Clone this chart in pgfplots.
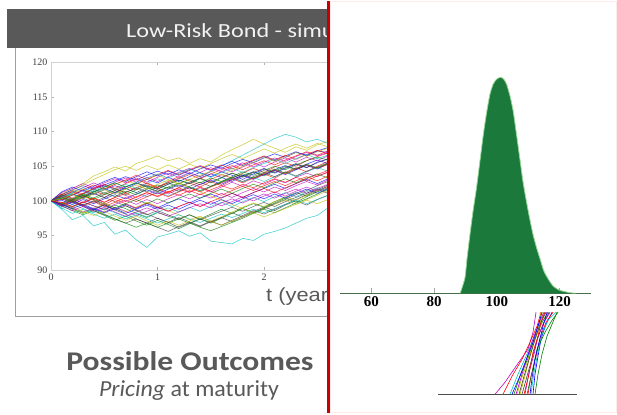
\documentclass[border=0pt]{standalone}
\usepackage{fontspec}
\setmainfont{Carlito}
\newfontfamily\timesfont{Liberation Serif}
\newfontfamily\arialfont{Liberation Sans}
\usepackage{pgfplots}
\pgfplotsset{compat=1.18}

\definecolor{bargray}{RGB}{89,89,89}
\definecolor{txtgray}{RGB}{89,89,89}
\definecolor{histgreen}{RGB}{27,122,59}
\definecolor{histedge}{RGB}{150,215,150}
\definecolor{baseg}{RGB}{70,110,75}
\definecolor{slidered}{RGB}{200,0,0}
\definecolor{mb}{rgb}{0,0,1}
\definecolor{mg}{rgb}{0,0.5,0}
\definecolor{mr}{rgb}{1,0,0}
\definecolor{mc}{rgb}{0,0.75,0.75}
\definecolor{mm}{rgb}{0.75,0,0.75}
\definecolor{my}{rgb}{0.75,0.75,0}
\definecolor{mk}{rgb}{0.25,0.25,0.25}

% one simulated path, values every 0.1 year
\newcommand{\pth}[2]{\addplot[#1] table[row sep=\\, header=false, x expr=\coordindex/10, y index=0] {#2\\};}

\begin{document}
\begin{tikzpicture}
\path (0pt,0pt) rectangle (617pt,-412pt);

% ---- left panel frame and title bar
\begin{scope}[x=1pt,y=-1pt]
  \fill[white] (0,0) rectangle (617,412);
  \draw[pink!35, line width=0.8pt] (330.5,0.5) rectangle (616.5,411.5);
  \fill[bargray] (7,8) rectangle (327,47);
  \begin{scope}
    \clip (7,8) rectangle (327,47);
    \node[anchor=base west, inner sep=0, xscale=1.21, text=white!95!black, font=\fontsize{20}{20}\selectfont] at (126,36) {Low-Risk Bond - simulation};
  \end{scope}
  \draw[gray!75, line width=1pt] (15,47) -- (15,315) -- (327,315);
\end{scope}

% ---- simulated bond paths
\begin{scope}
\clip (0pt,0pt) rectangle (327pt,-412pt);
\begin{axis}[
  at={(51pt,-269pt)}, anchor=south west, scale only axis,
  width=319.5pt, height=208pt,
  xmin=0, xmax=3, ymin=90, ymax=120,
  xtick={0,1,2,3}, ytick={90,95,...,120},
  axis line style={gray!35, line width=0.9pt},
  tick style={gray!60}, major tick length=3pt,
  tick label style={font=\timesfont\fontsize{10}{10}\selectfont, text=black!75},
  /pgf/number format/assume math mode=true,
  every axis plot/.append style={line width=0.6pt, opacity=0.7},
]
\pth{mb}{100\\100.6\\101.0\\100.5\\101.3\\101.8\\101.2\\102.0\\102.6\\102.1\\101.7\\102.4\\103.0\\102.5\\103.3\\103.9\\103.4\\102.8\\103.6\\104.2\\103.7\\104.5\\105.1\\104.6\\105.3\\105.9\\105.4}
\pth{mg}{100\\99.6\\99.1\\99.8\\99.3\\98.7\\99.4\\98.9\\98.2\\97.6\\98.3\\97.8\\97.3\\98.0\\97.4\\98.1\\98.8\\98.2\\99.0\\99.6\\99.1\\99.9\\100.5\\101.2\\100.7\\101.5\\102.1}
\pth{mr}{100\\100.9\\101.5\\101.0\\101.8\\102.3\\101.7\\101.2\\101.9\\102.6\\102.0\\102.8\\103.5\\102.9\\102.3\\103.1\\103.8\\103.3\\104.0\\104.7\\104.1\\104.9\\105.5\\105.0\\105.8\\106.4\\106.9}
\pth{mc}{100\\98.8\\97.3\\97.9\\96.4\\96.9\\95.2\\95.8\\94.4\\93.3\\94.8\\95.2\\95.7\\94.9\\95.4\\94.2\\94.0\\93.8\\94.6\\94.3\\95.2\\95.6\\96.1\\96.8\\97.5\\97.9\\99.0}
\pth{mm}{100\\100.3\\99.7\\100.4\\101.1\\100.5\\101.3\\100.8\\100.2\\100.9\\101.6\\101.0\\101.7\\101.2\\101.9\\101.3\\102.0\\102.7\\102.1\\102.9\\102.4\\103.1\\102.6\\103.4\\104.0\\103.5\\104.2}
\pth{my}{100\\101.0\\101.8\\102.5\\103.6\\104.2\\104.9\\104.3\\105.4\\105.9\\106.5\\105.8\\106.2\\105.4\\106.1\\105.6\\106.6\\107.4\\108.1\\108.9\\108.2\\107.6\\107.0\\107.8\\107.3\\108.1\\108.6}
\pth{mk}{100\\99.5\\100.1\\99.4\\98.8\\99.5\\98.7\\98.1\\97.4\\96.8\\97.5\\96.9\\96.2\\96.8\\97.4\\96.9\\97.6\\98.3\\97.7\\98.5\\99.1\\98.6\\99.4\\100.0\\99.4\\100.2\\100.8}
\pth{mb}{100\\100.2\\100.8\\101.5\\100.9\\101.6\\102.2\\101.7\\102.5\\103.1\\102.6\\103.4\\102.8\\103.5\\104.1\\103.5\\104.2\\103.7\\103.1\\103.9\\104.6\\104.0\\104.7\\105.3\\104.8\\105.6\\106.0}
\pth{mg}{100\\99.3\\98.6\\98.0\\98.6\\97.9\\97.2\\97.8\\97.1\\96.5\\97.2\\96.6\\96.0\\96.7\\97.4\\96.8\\97.5\\98.2\\98.9\\98.3\\99.0\\99.7\\100.4\\99.8\\100.6\\101.3\\101.9}
\pth{mr}{100\\100.5\\100.0\\100.7\\101.4\\100.9\\101.5\\102.1\\101.6\\102.3\\101.8\\101.2\\101.9\\102.6\\102.0\\102.8\\102.2\\103.0\\103.7\\103.2\\103.9\\103.3\\104.1\\104.8\\104.2\\105.0\\105.7}
\pth{mc}{100\\100.7\\101.4\\100.8\\101.5\\102.2\\101.6\\102.4\\101.8\\102.5\\103.2\\102.6\\103.3\\104.0\\103.5\\104.3\\105.0\\105.8\\106.6\\107.4\\108.2\\109.0\\109.6\\109.2\\108.5\\108.9\\108.3}
\pth{mm}{100\\99.8\\99.2\\99.9\\99.3\\98.8\\99.5\\100.1\\99.5\\100.2\\99.6\\100.3\\100.9\\100.3\\101.0\\100.4\\101.1\\100.5\\101.2\\101.8\\101.3\\102.0\\101.5\\102.2\\102.8\\102.3\\103.0}
\pth{my}{100\\99.4\\98.9\\98.3\\98.9\\99.6\\99.0\\98.4\\99.1\\99.8\\99.2\\98.6\\98.0\\97.3\\97.8\\97.1\\97.7\\98.4\\99.1\\99.7\\99.2\\99.9\\100.6\\100.1\\100.8\\101.4\\102.0}
\pth{mk}{100\\100.4\\101.0\\100.4\\99.8\\100.5\\99.9\\99.3\\98.7\\98.1\\97.5\\96.9\\97.6\\97.0\\96.4\\97.1\\96.5\\97.2\\97.9\\98.6\\98.1\\98.8\\99.5\\100.2\\100.9\\101.6\\102.3}
\pth{mb}{100\\100.9\\101.6\\102.2\\101.7\\102.3\\102.9\\103.5\\103.0\\103.7\\104.3\\103.8\\104.5\\103.9\\104.6\\105.2\\104.7\\105.4\\106.0\\105.5\\106.2\\106.8\\106.3\\107.0\\106.6\\107.2\\107.7}
\pth{mg}{100\\100.6\\100.1\\100.8\\100.2\\100.9\\101.5\\100.9\\101.6\\102.2\\101.7\\102.4\\103.0\\102.5\\103.2\\102.6\\103.3\\104.0\\103.5\\104.2\\103.6\\104.3\\105.0\\104.5\\105.2\\104.7\\105.4}
\pth{mr}{100\\99.7\\100.3\\99.7\\100.4\\99.8\\100.5\\99.9\\100.6\\101.2\\100.7\\101.4\\100.8\\101.5\\100.9\\101.6\\102.2\\101.7\\102.4\\101.9\\102.6\\103.2\\102.7\\103.4\\102.9\\103.6\\104.1}
\pth{mc}{100\\98.9\\99.5\\98.9\\98.3\\98.9\\98.3\\97.7\\98.3\\97.7\\98.4\\99.0\\98.4\\99.1\\98.5\\99.2\\99.8\\99.2\\99.9\\100.5\\99.9\\100.6\\101.2\\100.6\\101.3\\101.9\\101.4}
\pth{mm}{100\\101.2\\101.8\\102.5\\101.9\\102.6\\103.2\\102.6\\103.3\\102.7\\103.4\\104.0\\103.4\\104.1\\103.5\\104.2\\104.8\\104.2\\104.9\\105.5\\104.9\\105.6\\106.2\\105.6\\106.3\\105.8\\106.5}
\pth{my}{100\\100.5\\101.1\\101.7\\101.1\\101.8\\102.4\\103.0\\102.4\\103.1\\103.7\\103.1\\102.5\\101.9\\101.3\\100.7\\100.1\\99.5\\98.9\\98.3\\98.9\\99.5\\100.1\\99.5\\100.2\\100.8\\101.5}
\pth{mk}{100\\99.2\\99.8\\99.2\\98.6\\98.0\\97.4\\96.8\\97.4\\96.8\\96.2\\95.6\\96.3\\96.9\\96.3\\97.0\\97.6\\97.0\\97.7\\98.3\\98.9\\99.6\\100.2\\100.9\\101.5\\102.2\\102.8}
\pth{mb}{100\\100.1\\99.5\\100.2\\99.6\\100.3\\100.9\\100.3\\101.0\\101.6\\101.0\\101.7\\102.3\\101.7\\102.4\\103.0\\102.4\\103.1\\103.7\\103.1\\103.8\\104.4\\103.8\\104.5\\105.1\\104.6\\105.3}
\pth{mg}{100\\99.5\\98.8\\98.2\\98.8\\98.1\\97.4\\96.8\\96.2\\96.8\\96.2\\96.8\\97.4\\96.8\\96.2\\95.7\\96.3\\96.9\\97.5\\98.2\\98.8\\98.3\\99.0\\99.7\\100.3\\101.0\\101.7}
\pth{mr}{100\\101.0\\100.4\\101.1\\101.8\\102.4\\101.8\\102.5\\103.1\\102.5\\101.9\\102.6\\103.2\\103.8\\103.2\\103.9\\104.5\\105.1\\104.5\\105.2\\105.8\\105.2\\105.9\\106.5\\107.1\\106.6\\107.2}
\pth{mc}{100\\100.4\\101.0\\100.4\\101.1\\101.7\\101.1\\101.8\\101.2\\100.6\\101.3\\100.7\\101.4\\102.0\\101.4\\102.1\\102.7\\103.3\\102.7\\103.4\\102.8\\103.5\\104.1\\103.5\\104.2\\104.8\\104.3}
\pth{mm}{100\\99.6\\99.0\\98.4\\99.0\\98.4\\99.1\\98.5\\97.9\\98.5\\99.1\\98.5\\99.2\\99.8\\99.2\\99.9\\99.3\\99.9\\100.6\\100.0\\100.7\\101.3\\100.7\\101.4\\102.0\\101.4\\102.1}
\pth{my}{100\\100.8\\101.5\\102.3\\103.1\\103.8\\104.5\\105.0\\104.4\\105.1\\104.5\\105.2\\104.6\\105.3\\104.7\\105.4\\106.1\\106.7\\106.1\\106.8\\107.5\\106.9\\107.6\\108.2\\107.6\\108.3\\107.8}
\pth{mk}{100\\100.3\\99.8\\100.5\\101.1\\100.5\\101.2\\101.8\\101.2\\101.9\\101.3\\102.0\\101.4\\102.1\\102.7\\102.1\\102.8\\103.4\\102.8\\103.5\\104.1\\103.5\\104.2\\103.6\\104.3\\104.9\\105.5}
\pth{mb}{100\\99.3\\99.9\\99.3\\98.7\\99.4\\98.8\\99.5\\98.9\\99.6\\99.0\\99.7\\100.3\\99.7\\100.4\\101.0\\100.4\\101.1\\100.5\\101.2\\101.8\\102.4\\101.8\\102.5\\103.1\\102.5\\103.2}
\pth{mr}{100\\100.7\\101.3\\100.7\\100.1\\99.5\\100.2\\99.6\\99.0\\99.7\\99.1\\98.5\\99.2\\99.8\\99.2\\99.9\\100.5\\101.1\\100.5\\101.2\\101.8\\101.2\\101.9\\102.5\\103.2\\103.8\\104.4}
\pth{mg}{100\\100.8\\100.2\\101.0\\100.4\\101.2\\100.6\\101.4\\100.9\\101.7\\102.3\\101.8\\102.5\\103.1\\102.6\\103.3\\102.8\\103.5\\104.2\\103.7\\104.4\\105.0\\104.5\\105.2\\105.8\\106.3\\105.9}
\pth{mr}{100\\99.4\\100.0\\99.3\\99.9\\99.2\\99.8\\100.5\\99.9\\100.6\\101.2\\100.6\\101.3\\101.9\\101.3\\102.0\\102.6\\103.2\\102.6\\103.3\\103.9\\104.5\\103.9\\104.6\\105.2\\104.7\\105.3}
\pth{mb}{100\\101.3\\102.0\\101.4\\102.1\\102.8\\103.4\\102.8\\103.5\\104.2\\103.6\\104.3\\103.7\\104.4\\105.0\\104.4\\105.1\\105.7\\105.1\\105.8\\106.4\\105.8\\106.5\\107.1\\106.5\\107.2\\107.0}
\pth{mc}{100\\99.0\\98.2\\98.8\\98.1\\97.5\\98.1\\97.4\\98.0\\97.4\\96.8\\97.4\\98.0\\97.4\\96.9\\97.5\\98.1\\97.6\\98.2\\98.8\\98.3\\98.9\\99.5\\100.1\\99.6\\100.2\\100.8}
\pth{mm}{100\\100.6\\101.3\\101.9\\102.6\\102.0\\102.7\\103.3\\102.7\\103.4\\102.8\\103.5\\104.1\\104.7\\104.1\\104.8\\104.2\\104.9\\105.5\\104.9\\105.6\\106.2\\105.7\\106.4\\107.0\\106.5\\107.0}
\pth{my}{100\\99.7\\99.1\\98.5\\97.9\\98.5\\97.8\\97.2\\97.8\\97.1\\96.5\\97.1\\96.5\\97.1\\97.7\\97.0\\96.5\\97.1\\97.7\\98.3\\97.7\\98.3\\98.9\\99.5\\100.1\\99.6\\100.2}
\pth{mk}{100\\100.9\\100.3\\101.0\\101.7\\101.1\\101.8\\101.2\\101.9\\101.3\\102.0\\102.6\\102.0\\102.7\\103.3\\102.7\\103.4\\104.0\\103.4\\104.1\\104.7\\104.1\\104.8\\105.4\\104.8\\105.5\\106.1}
\pth{mg}{100\\99.6\\100.2\\100.8\\100.2\\99.6\\99.0\\99.6\\100.2\\99.6\\100.3\\99.7\\100.4\\101.0\\100.4\\101.1\\101.7\\101.1\\101.8\\102.4\\101.9\\102.6\\103.2\\102.6\\103.3\\103.9\\103.3}
\pth{mr}{100\\100.2\\100.9\\101.6\\102.3\\101.7\\102.4\\103.0\\103.7\\103.1\\103.8\\104.4\\103.8\\104.5\\105.1\\104.5\\105.2\\104.6\\105.3\\105.9\\106.5\\105.9\\106.6\\106.0\\106.7\\107.3\\106.8}
\pth{mb}{100\\99.5\\98.9\\99.5\\98.9\\98.3\\98.9\\98.2\\98.8\\99.4\\98.8\\99.4\\98.8\\99.5\\100.1\\99.5\\100.2\\99.6\\100.3\\100.9\\100.3\\101.0\\100.4\\101.1\\101.7\\101.1\\101.8}
\pth{mc}{100\\100.5\\101.2\\101.9\\101.3\\102.0\\102.6\\102.0\\102.7\\103.3\\103.9\\103.3\\104.0\\104.6\\104.0\\103.4\\104.1\\104.7\\104.1\\104.8\\105.4\\106.0\\105.4\\106.1\\106.7\\106.1\\106.6}
\pth{mm}{100\\99.3\\98.6\\99.2\\98.5\\99.1\\98.4\\97.8\\98.4\\99.0\\98.4\\97.8\\98.4\\99.0\\99.6\\99.0\\99.7\\100.3\\99.7\\100.4\\101.0\\100.4\\101.1\\101.7\\101.1\\101.8\\102.4}
\pth{mg}{100\\100.4\\99.9\\100.6\\101.3\\102.0\\102.6\\102.0\\102.6\\102.0\\101.4\\102.0\\102.6\\102.0\\101.5\\102.1\\102.7\\103.3\\103.9\\103.3\\104.0\\104.6\\104.0\\104.7\\105.3\\104.8\\105.4}
\pth{mk}{100\\100.6\\100.0\\99.4\\100.0\\99.3\\98.7\\99.3\\98.6\\98.0\\98.6\\98.0\\97.4\\98.0\\97.3\\97.9\\98.5\\99.1\\98.5\\99.2\\99.8\\99.2\\99.9\\100.5\\101.1\\101.7\\101.1}
\pth{my}{100\\100.3\\100.9\\100.3\\101.0\\101.6\\101.0\\101.7\\102.3\\101.7\\102.4\\103.0\\102.4\\103.1\\103.7\\104.3\\103.7\\104.4\\105.0\\105.6\\106.3\\105.7\\106.4\\107.0\\106.4\\107.1\\107.6}
\pth{mr}{100\\99.8\\99.2\\99.8\\100.4\\99.8\\100.5\\101.1\\100.5\\101.2\\100.6\\101.3\\101.9\\101.3\\102.0\\101.4\\100.8\\101.5\\102.1\\101.5\\102.2\\102.8\\102.2\\102.9\\103.5\\102.9\\103.6}
\end{axis}
\node[anchor=base west, inner sep=0, xscale=1.15, text=txtgray, font=\arialfont\fontsize{19}{19}\selectfont] at (266pt,-300pt) {t (years)};
\end{scope}

% ---- distribution at maturity
\begin{axis}[
  at={(340pt,-292pt)}, anchor=south west, scale only axis,
  width=251pt, height=250pt,
  xmin=50, xmax=130, ymin=0, ymax=250,
  axis y line=none, axis x line=bottom,
  x axis line style={-, draw=baseg, line width=0.9pt},
  xtick={60,80,100,120}, tick align=inside, major tick length=5pt,
  xtick style={gray!70, line width=0.7pt},
  tick label style={font=\timesfont\bfseries\fontsize{15}{15}\selectfont, text=black},
  /pgf/number format/assume math mode=true,
  clip=false,
]
\addplot[fill=histgreen, draw=histedge, line width=0.8pt, smooth, tension=0.4] coordinates {
  (88.3,0) (89.8,15) (90.5,35) (91.4,58) (92.4,82) (93.5,105) (94.6,132)
  (95.7,159) (96.7,180) (97.8,199) (98.8,209) (99.9,214) (101.2,216)
  (102.2,214) (103.1,209) (104.2,197) (105.2,182) (106.2,160) (107.3,135)
  (108.3,112) (109.4,92) (110.5,74) (111.5,59) (112.6,46) (113.7,35)
  (115,22) (116.8,12) (118,7) (120,3) (123,0.7) (125,0)};
\end{axis}

% ---- fan of paths below the distribution
\begin{axis}[
  at={(430pt,-393pt)}, anchor=south west, scale only axis,
  width=150pt, height=82pt,
  xmin=430, xmax=580, ymin=0, ymax=82,
  axis lines=none, clip=false,
  every axis plot/.append style={line width=0.6pt},
]
\addplot[mm] coordinates {(495,0)(505,12)(516,28)(528,45)(533,62)(536,82)};
\addplot[mr] coordinates {(503,0)(512,18)(522,35)(530,52)(537,68)(541,82)};
\addplot[mc] coordinates {(510,0)(518,20)(526,38)(533,55)(539,70)(545,82)};
\addplot[mg] coordinates {(514,0)(520,18)(528,36)(534,54)(541,70)(548,82)};
\addplot[my] coordinates {(517,0)(523,20)(530,40)(536,57)(541,70)(540,82)};
\addplot[mb] coordinates {(533,0)(535,20)(538,38)(541,55)(546,70)(552,82)};
\addplot[mk] coordinates {(522,0)(527,18)(532,36)(537,54)(543,70)(549,82)};
\addplot[mm] coordinates {(525,0)(529,22)(534,40)(538,58)(544,72)(550,82)};
\addplot[mr] coordinates {(528,0)(531,18)(536,38)(540,56)(546,72)(553,82)};
\addplot[mc] coordinates {(531,0)(534,22)(538,42)(542,60)(548,74)(556,82)};
\addplot[mg] coordinates {(527,0)(532,22)(537,45)(545,62)(552,74)(558,82)};
\addplot[my] coordinates {(520,0)(526,22)(531,44)(537,62)(542,76)(543,82)};
\addplot[mb] coordinates {(530,0)(532,16)(535,35)(539,52)(543,68)(547,82)};
\addplot[mk] coordinates {(519,0)(524,18)(530,38)(535,55)(540,70)(546,82)};
\addplot[mm] coordinates {(516,0)(522,20)(528,40)(534,58)(540,74)(544,82)};
\addplot[mr] coordinates {(524,0)(529,20)(533,42)(538,58)(541,72)(545,82)};
\addplot[mg] coordinates {(535,0)(538,20)(542,40)(547,58)(552,70)(557,82)};
\addplot[mb] coordinates {(512,0)(519,16)(526,34)(533,52)(538,68)(542,82)};
\addplot[black!70, line width=1pt] coordinates {(438,0)(577,0)};
\end{axis}

% ---- divider and captions
\begin{scope}[x=1pt,y=-1pt]
  \draw[slidered, line width=2.5pt] (328.5,0) -- (328.5,412);
  \node[anchor=base, inner sep=0, xscale=1.17, text=txtgray, font=\bfseries\fontsize{27}{27}\selectfont] at (190,369) {Possible Outcomes};
  \node[anchor=base, inner sep=0, xscale=1.04, text=txtgray, font=\fontsize{23}{23}\selectfont] at (189,395) {\textit{Pricing} at maturity};
\end{scope}
\end{tikzpicture}
\end{document}
